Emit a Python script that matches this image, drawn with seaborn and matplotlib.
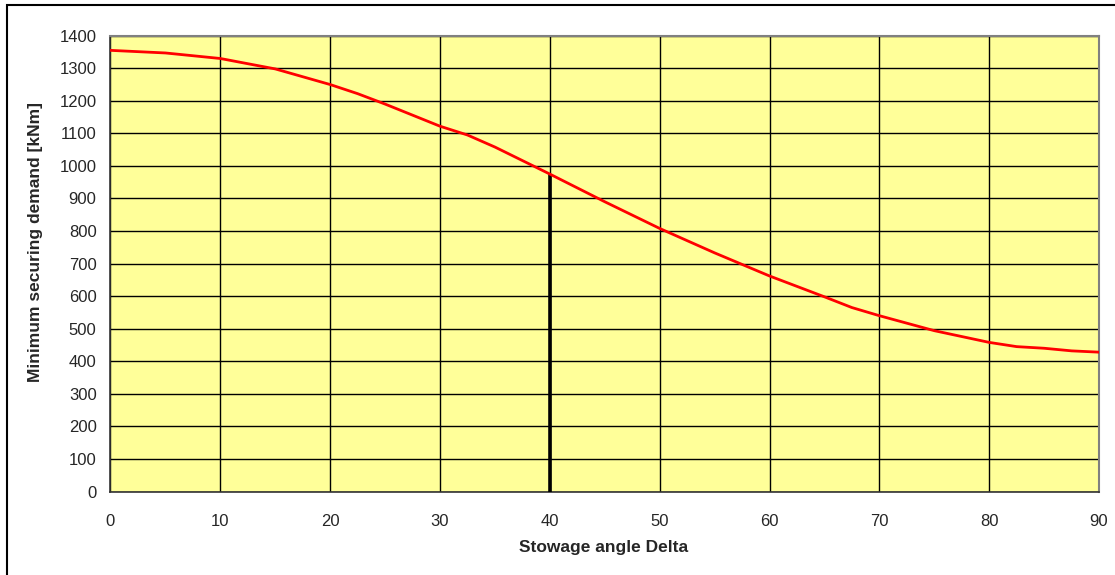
import matplotlib
matplotlib.use("Agg")
import matplotlib.pyplot as plt
import seaborn as sns
import pandas as pd
from matplotlib.patches import Rectangle

# stowage angle [deg] and minimum securing demand [kNm]
angle = [0, 5, 10, 15, 20, 22.5, 25, 30, 32.5, 35, 40, 45, 50, 55, 60,
         65, 67.5, 70, 75, 80, 82.5, 85, 87.5, 90]
demand = [1355, 1347, 1330, 1298, 1250, 1222, 1190, 1122, 1095, 1058, 975,
          890, 808, 733, 662, 598, 565, 540, 494, 458, 445, 440, 432, 428]
marker_angle = 40

x_ticks = list(range(0, 91, 10))
y_ticks = list(range(0, 1401, 100))

df = pd.DataFrame({"angle": angle, "demand": demand})

sns.set_style("white")
plt.rcParams['font.family'] = ['Liberation Sans', 'DejaVu Sans']

fig = plt.figure(figsize=(11.15, 5.75), dpi=100)
ax = fig.add_axes([0.0991, 0.1452, 0.8866, 0.7927])
ax.set_facecolor("#FFFF99")

sns.lineplot(data=df, x="angle", y="demand", ax=ax, color="#FF0000",
             linewidth=2.0, zorder=4)

marker_val = df.loc[df["angle"] == marker_angle, "demand"].iloc[0]
ax.vlines(marker_angle, 0, marker_val, color="black", linewidth=2.6, zorder=3)

ax.set_xlim(0, 90)
ax.set_ylim(0, 1400)
ax.set_xticks(x_ticks)
ax.set_yticks(y_ticks)
ax.grid(True, color="black", linewidth=1.0)
ax.set_axisbelow(True)

ax.tick_params(axis="both", labelsize=12, length=5, width=1, direction="out",
               color="black")
ax.tick_params(axis="x", pad=11)
ax.tick_params(axis="y", pad=5)

for side in ["left", "bottom"]:
    ax.spines[side].set_color("#333333")
    ax.spines[side].set_linewidth(1.2)
for side in ["top", "right"]:
    ax.spines[side].set_color("#808080")
    ax.spines[side].set_linewidth(1.5)
    ax.spines[side].set_visible(True)

ax.set_xlabel("Stowage angle Delta", fontsize=12.5, fontweight="bold")
ax.set_ylabel("Minimum securing demand [kNm]", fontsize=12.5, fontweight="bold")
ax.xaxis.set_label_coords(0.499, -0.1064)
ax.yaxis.set_label_coords(-0.0683, 0.547)

# outer frame around the chart
fig.patches.append(Rectangle((0.0063, -0.02), 1.1, 1.02 - 5 / 575,
                             transform=fig.transFigure, fill=False,
                             edgecolor="black", linewidth=1.5))

fig.savefig("out.png", dpi=100)
